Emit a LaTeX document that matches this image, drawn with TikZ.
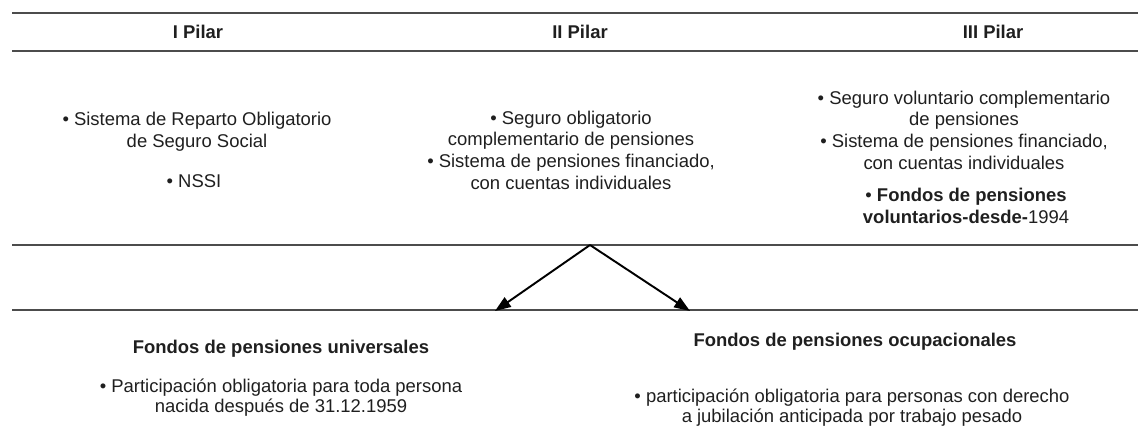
\documentclass[tikz,border=0pt]{standalone}
\usepackage{fontspec}
\setmainfont{Liberation Sans}
\usetikzlibrary{arrows.meta}

\tikzset{
	txt/.style={align=center, inner sep=0pt, text=black!88, font=\fontsize{10.5}{12.3}\selectfont},
	low/.style={align=center, inner sep=0pt, text=black!88, font=\fontsize{10.5}{11.4}\selectfont},
	head/.style={align=center, inner sep=0pt, text=black!88, font=\fontsize{10.5}{12.3}\selectfont\bfseries},
	rule/.style={draw=black!70, line width=0.75pt},
	flow/.style={line width=1.1pt, -{Triangle[length=9pt,width=6.5pt]}}
}

\begin{document}
\begin{tikzpicture}[x=0.02cm, y=-0.02cm]
	\useasboundingbox (0,0) rectangle (1138,440);

	\draw[rule] (12,13)  -- (1138,13);
	\draw[rule] (12,51)  -- (1138,51);
	\draw[rule] (12,245) -- (1138,245);
	\draw[rule] (12,310) -- (1138,310);

	\node[head] (h1) at (198,32) {I Pilar};
	\node[head] (h2) at (580,32) {II Pilar};
	\node[head] (h3) at (993,32) {III Pilar};

	\node[txt] (p1) at (197,132) {• Sistema de Reparto Obligatorio\\de Seguro Social};
	\node[txt] (p1b) at (194,181) {• NSSI};
	\node[txt] (p2) at (571,150) {• Seguro obligatorio\\complementario de pensiones\\• Sistema de pensiones financiado,\\con cuentas individuales};
	\node[txt] (p3) at (964,130) {• Seguro voluntario complementario\\de pensiones\\• Sistema de pensiones financiado,\\con cuentas individuales};
	\node[txt] (p3b) at (966,206) {• \textbf{Fondos de pensiones}\\\textbf{voluntarios-desde-}1994};

	\coordinate (apex) at (590,245);
	\coordinate (tipl) at (495,311);
	\coordinate (tipr) at (690,311);

	\path [flow] (apex) edge (tipl);
	\path [flow] (apex) edge (tipr);

	\node[head] (f1) at (281,349) {Fondos de pensiones universales};
	\node[low] (f1b) at (281,398) {• Participación obligatoria para toda persona\\nacida después de 31.12.1959};
	\node[head] (f2) at (855,342) {Fondos de pensiones ocupacionales};
	\node[low] (f2b) at (852,408) {• participación obligatoria para personas con derecho\\a jubilación anticipada por trabajo pesado};
\end{tikzpicture}
\end{document}
